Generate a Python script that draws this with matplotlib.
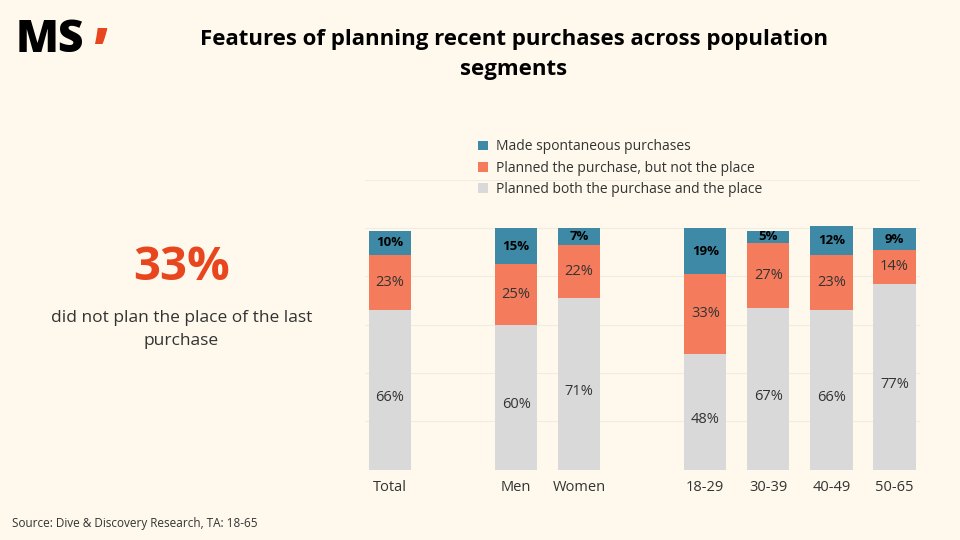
import numpy as np
import matplotlib
matplotlib.use('Agg')
import matplotlib.pyplot as plt

plt.rcParams['font.family'] = ['Open Sans', 'DejaVu Sans']

categories = ['Total', 'Men', 'Women', '18-29', '30-39', '40-49', '50-65']
positions = [0, 2, 3, 5, 6, 7, 8]
planned_both = [66, 60, 71, 48, 67, 66, 77]
planned_purchase = [23, 25, 22, 33, 27, 23, 14]
spontaneous = [10, 15, 7, 19, 5, 12, 9]

BG = '#FEF9EC'
C_GRAY = '#D9D9D9'
C_ORANGE = '#F47C5C'
C_TEAL = '#3E8AA6'

fig = plt.figure(figsize=(9.6, 5.4), dpi=100, facecolor=BG)
ax = fig.add_axes([0.38, 0.13, 0.578, 0.537], facecolor=BG)

x = np.array(positions)
b1 = np.array(planned_both)
b2 = np.array(planned_purchase)
b3 = np.array(spontaneous)
w = 0.67
ax.bar(x, b1, w, color=C_GRAY, zorder=2, label='Planned both the purchase and the place')
ax.bar(x, b2, w, bottom=b1, color=C_ORANGE, zorder=2, label='Planned the purchase, but not the place')
ax.bar(x, b3, w, bottom=b1 + b2, color=C_TEAL, zorder=2, label='Made spontaneous purchases')

for xi, a, b, c in zip(x, b1, b2, b3):
    ax.text(xi, a / 2 - 3, f'{a}%', ha='center', va='center', fontsize=10.5, color='#333333')
    ax.text(xi, a + b / 2, f'{b}%', ha='center', va='center', fontsize=10.5, color='#333333')
    ax.text(xi, a + b + c / 2, f'{c}%', ha='center', va='center', fontsize=9.5,
            fontweight='bold', color='black')

ax.set_xlim(-0.4, 8.4)
ax.set_ylim(0, 120)
ax.set_yticks(np.arange(0, 121, 20))
ax.set_yticklabels([])
ax.tick_params(axis='y', length=0)
ax.grid(axis='y', color='#F0ECE0', linewidth=0.8, zorder=0)
ax.set_xticks(x)
ax.set_xticklabels(categories, fontsize=10.5, color='#333333')
ax.tick_params(axis='x', length=0, pad=7)
for s in ax.spines.values():
    s.set_visible(False)

h, l = ax.get_legend_handles_labels()
fig.legend(h[::-1], l[::-1], loc='upper left', bbox_to_anchor=(0.485, 0.765),
           frameon=False, fontsize=10, handlelength=0.7, handleheight=0.7,
           labelspacing=0.45, handletextpad=0.6, labelcolor='#333333')

fig.text(0.535, 0.899, 'Features of planning recent purchases across population\nsegments',
         ha='center', va='center', fontsize=16, fontweight='bold', linespacing=1.6)
fig.text(0.016, 0.925, 'MS', fontsize=32, fontweight='heavy', va='center')
fig.text(0.098, 0.90, '\u2019', fontsize=40, fontweight='heavy', va='center', color='#E8461E')

fig.text(0.189, 0.505, '33%', ha='center', va='center', fontsize=34,
         fontweight='bold', color='#E8461E')
fig.text(0.189, 0.39, 'did not plan the place of the last\npurchase', ha='center',
         va='center', fontsize=12.5, color='#333333', linespacing=1.6)
fig.text(0.012, 0.025, 'Source: Dive & Discovery Research, TA: 18-65', fontsize=8.5, color='#333333')

fig.savefig('out.png', dpi=100, facecolor=BG)
